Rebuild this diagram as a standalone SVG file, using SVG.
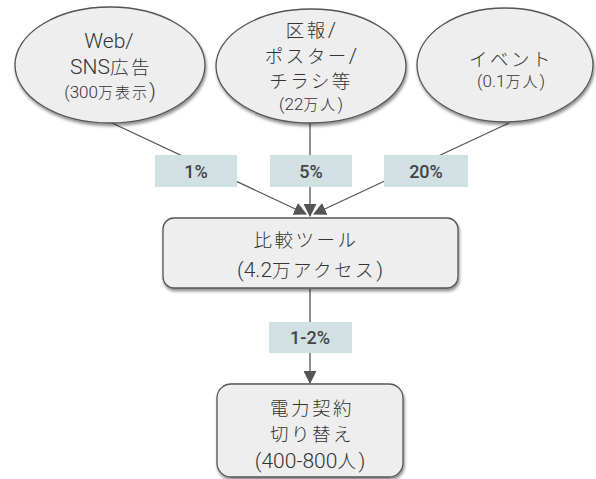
<svg xmlns="http://www.w3.org/2000/svg" width="596" height="479" viewBox="0 0 596 479">
<defs>
<filter id="sh" x="-10%" y="-10%" width="125%" height="130%">
<feDropShadow dx="1" dy="2.5" stdDeviation="1.6" flood-color="#000" flood-opacity="0.45"/>
</filter>
<marker id="ah" markerWidth="13" markerHeight="13" viewBox="0 0 12 12" refX="11" refY="6" orient="auto" markerUnits="userSpaceOnUse">
<path d="M0,0 L12,6 L0,12 Z" fill="#555"/>
</marker>
<style>
.n{fill:#eeeeee;stroke:#555;stroke-width:1.3;filter:url(#sh)}
.t{font-family:Roboto,"Noto Sans CJK JP",sans-serif;font-weight:300;fill:#333;text-anchor:middle}
.big{font-size:21px}
.big .j{font-size:18.5px;letter-spacing:2.5px}
.sm{font-size:17px}
.sm .j{font-size:15px;letter-spacing:2px}
.lb{fill:#d0e0e3}
.lt{font-family:Roboto,"Noto Sans CJK JP",sans-serif;font-weight:500;fill:#444;text-anchor:middle;font-size:18px}
.c{stroke:#555;stroke-width:1.3;fill:none}
</style>
</defs>
<g id="connectors">
<line class="c" x1="112" y1="123" x2="306" y2="214" marker-end="url(#ah)"/>
<line class="c" x1="310" y1="123" x2="310" y2="216" marker-end="url(#ah)"/>
<line class="c" x1="509" y1="123" x2="314" y2="214" marker-end="url(#ah)"/>
<line class="c" x1="310" y1="289" x2="310" y2="383" marker-end="url(#ah)"/>
<rect class="lb" x="155" y="155" width="82" height="32"/>
<text class="lt" x="196" y="178">1%</text>
<rect class="lb" x="270" y="155" width="82" height="32"/>
<text class="lt" x="311" y="178">5%</text>
<rect class="lb" x="384" y="155" width="84" height="32"/>
<text class="lt" x="426" y="178">20%</text>
<rect class="lb" x="269" y="322" width="83" height="31"/>
<text class="lt" x="310" y="344">1-2%</text>
</g>
<g id="web">
<ellipse class="n" cx="110" cy="65" rx="95" ry="58"/>
<text class="t big" x="109" y="48">Web/</text>
<text class="t big" x="111" y="74">SNS<tspan class="j">広告</tspan></text>
<text class="t sm" x="110" y="98">(300<tspan class="j">万表示</tspan><tspan font-size="21px">)</tspan></text>
</g>
<g id="kouhou">
<ellipse class="n" cx="311" cy="66" rx="95" ry="57"/>
<text class="t big" x="311" y="37"><tspan class="j">区報</tspan>/</text>
<text class="t big" x="311" y="63"><tspan class="j">ポスター</tspan>/</text>
<text class="t big" x="311" y="88"><tspan class="j">チラシ等</tspan></text>
<text class="t sm" x="311" y="110">(22<tspan class="j">万人</tspan>)</text>
</g>
<g id="event">
<ellipse class="n" cx="505" cy="65" rx="88" ry="57"/>
<text class="t big" x="511" y="66"><tspan class="j">イベント</tspan></text>
<text class="t sm" x="511" y="87">(0.1<tspan class="j">万人</tspan>)</text>
</g>
<g id="tool">
<rect class="n" x="163" y="218" width="295" height="70" rx="11"/>
<text class="t big" x="306" y="247"><tspan class="j">比較ツール</tspan></text>
<text class="t big" x="310" y="277">(4.2<tspan class="j">万アクセス</tspan>)</text>
</g>
<g id="switch">
<rect class="n" x="217" y="384" width="186" height="93" rx="14"/>
<text class="t big" x="312" y="415"><tspan class="j">電力契約</tspan></text>
<text class="t big" x="312" y="441"><tspan class="j">切り替え</tspan></text>
<text class="t big" x="310" y="468">(400-800<tspan class="j">人</tspan>)</text>
</g>
</svg>
